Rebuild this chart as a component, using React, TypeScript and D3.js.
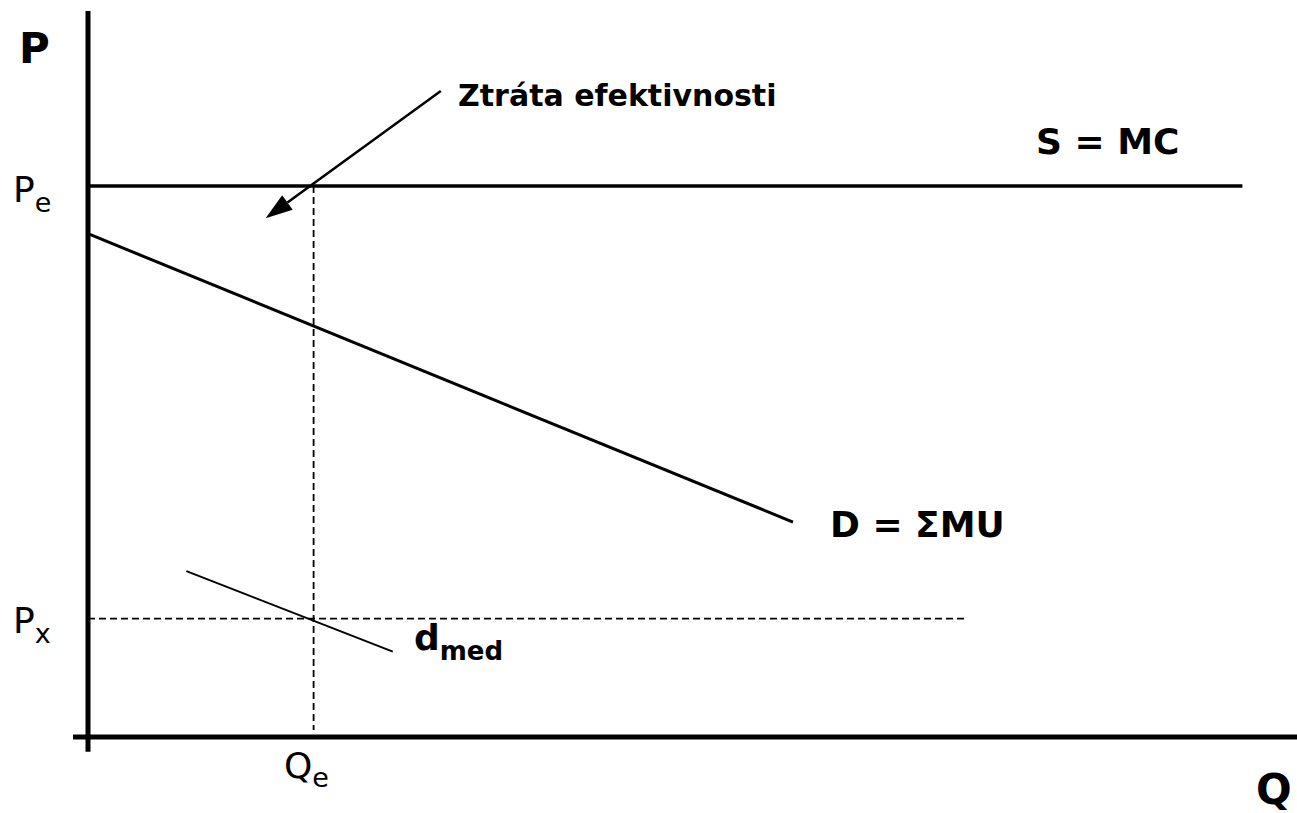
import React from "react";
import * as d3 from "d3";

// Data (economic units, abstract)
const qDomain = [0, 100];
const pDomain = [0, 100];
const supplyMC = [ { q: 0, p: 78.7 }, { q: 96.2, p: 78.7 } ];
const demandD = [ { q: 0, p: 71.9 }, { q: 58.75, p: 30.7 } ];
const demandMed = [ { q: 8.2, p: 23.7 }, { q: 25.4, p: 12.2 } ];
const Qe = 18.8;
const Pe = 78.7;
const Px = 16.9;
const pxLineEnd = 73.3;
const qeLineBottom = 1;
const arrowPts = [ { q: 29.4, p: 92.3 }, { q: 14.8, p: 74.1 } ];
const axisExtent = { qMin: -1.25, qMax: 101, pMin: -2.1, pMax: 103.7 };

const W = 1297;
const H = 813;
const FONT = "'DejaVu Sans', Verdana, sans-serif";

export default function App() {
  const x = d3.scaleLinear().domain(qDomain).range([88, 1288]);
  const y = d3.scaleLinear().domain(pDomain).range([737, 37]);
  const line = d3
    .line<{ q: number; p: number }>()
    .x((d) => x(d.q))
    .y((d) => y(d.p));

  // arrow geometry
  const a0 = arrowPts[0];
  const a1 = arrowPts[1];
  const tx = x(a1.q), ty = y(a1.p);
  const sx = x(a0.q), sy = y(a0.p);
  const ang = Math.atan2(ty - sy, tx - sx);
  const headLen = 27, headW = 9;
  const bx = tx - headLen * Math.cos(ang);
  const by = ty - headLen * Math.sin(ang);
  const nx = -Math.sin(ang), ny = Math.cos(ang);
  const head = `M${tx},${ty}L${bx + nx * headW},${by + ny * headW}L${bx - nx * headW},${by - ny * headW}Z`;

  return (
    <svg
      width={W}
      height={H}
      style={{ position: "absolute", left: 0, top: 0, background: "#fff" }}
      fontFamily={FONT}
    >
      {/* dashed guides */}
      <line x1={x(0)} x2={x(pxLineEnd)} y1={y(Px)} y2={y(Px)} stroke="#000" strokeWidth={1.8} strokeDasharray="7,4" />
      <line x1={x(Qe)} x2={x(Qe)} y1={y(Pe)} y2={y(qeLineBottom)} stroke="#000" strokeWidth={1.8} strokeDasharray="7,4" />

      {/* curves */}
      <path d={line(supplyMC) || ""} stroke="#000" strokeWidth={3.5} fill="none" />
      <path d={line(demandD) || ""} stroke="#000" strokeWidth={3} fill="none" />
      <path d={line(demandMed) || ""} stroke="#000" strokeWidth={2} fill="none" />

      {/* arrow */}
      <line x1={sx} y1={sy} x2={bx} y2={by} stroke="#000" strokeWidth={2.5} />
      <path d={head} fill="#000" />

      {/* axes */}
      <line x1={x(0)} x2={x(0)} y1={y(axisExtent.pMax)} y2={y(axisExtent.pMin)} stroke="#000" strokeWidth={5} />
      <line x1={x(axisExtent.qMin)} x2={x(axisExtent.qMax)} y1={y(0)} y2={y(0)} stroke="#000" strokeWidth={5} />

      {/* labels */}
      <text x={19} y={63} fontSize={42} fontWeight="bold">P</text>
      <text x={1256} y={804} fontSize={42} fontWeight="bold">Q</text>

      <text x={13} y={202} fontSize={36}>
        P<tspan fontSize={27} dy={10}>e</tspan>
      </text>
      <text x={13} y={633} fontSize={36}>
        P<tspan fontSize={27} dy={10}>x</tspan>
      </text>
      <text x={284} y={778} fontSize={36}>
        Q<tspan fontSize={27} dy={9}>e</tspan>
      </text>

      <text x={458} y={106} fontSize={30} fontWeight="bold">Ztráta efektivnosti</text>
      <text x={1036} y={154} fontSize={36} fontWeight="bold">S = MC</text>
      <text x={830} y={537} fontSize={36} fontWeight="bold">D = ΣMU</text>
      <text x={414} y={650} fontSize={36} fontWeight="bold">
        d<tspan fontSize={26} dy={10}>med</tspan>
      </text>
    </svg>
  );
}
